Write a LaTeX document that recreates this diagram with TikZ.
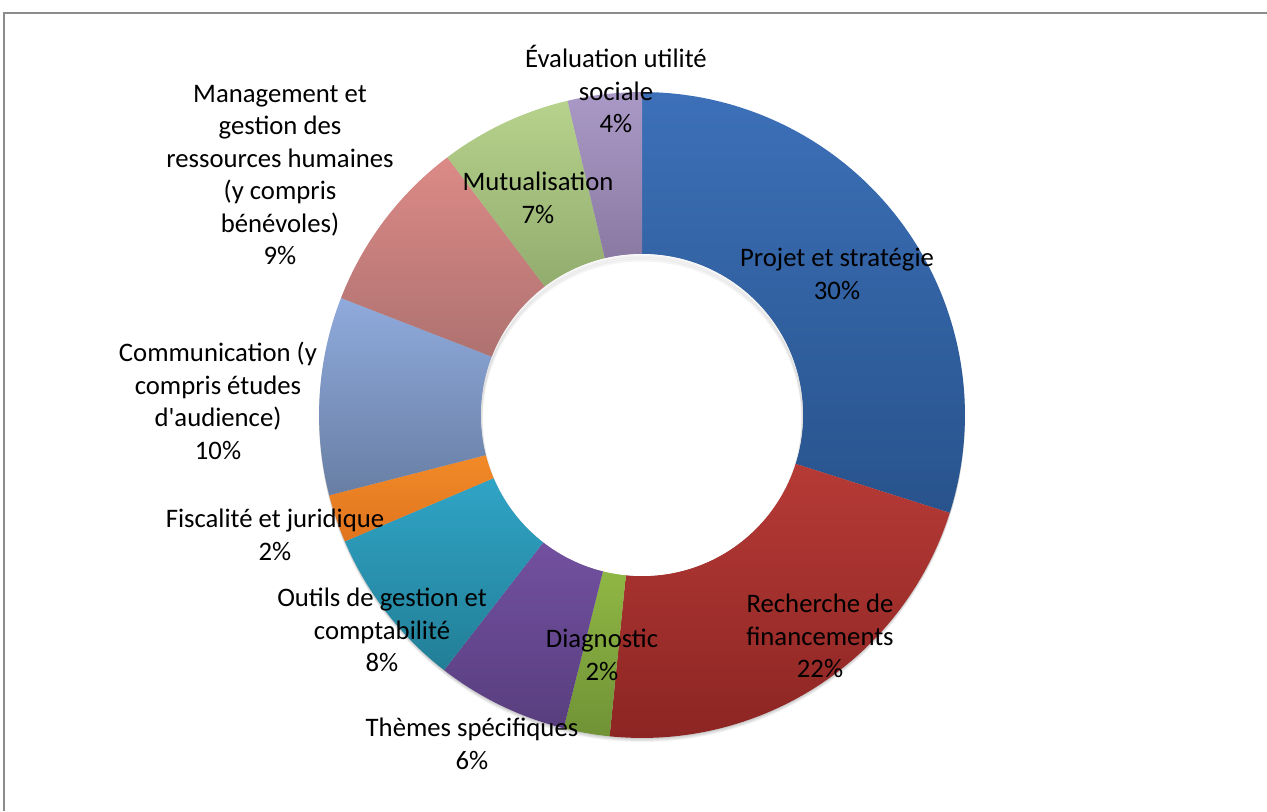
\documentclass[tikz,border=0pt]{standalone}
\usepackage{fontspec}
\setmainfont{Carlito}
\definecolor{framegray}{RGB}{140,140,140}
\definecolor{projetT}{RGB}{60,112,184}
\definecolor{projetB}{RGB}{40,83,140}
\definecolor{rechercheT}{RGB}{182,58,54}
\definecolor{rechercheB}{RGB}{138,36,34}
\definecolor{diagT}{RGB}{143,183,68}
\definecolor{diagB}{RGB}{112,146,54}
\definecolor{themesT}{RGB}{114,80,160}
\definecolor{themesB}{RGB}{88,62,126}
\definecolor{outilsT}{RGB}{48,164,198}
\definecolor{outilsB}{RGB}{34,126,150}
\definecolor{fiscT}{RGB}{242,138,40}
\definecolor{fiscB}{RGB}{224,116,30}
\definecolor{commT}{RGB}{143,170,220}
\definecolor{commB}{RGB}{104,126,164}
\definecolor{mgmtT}{RGB}{220,138,135}
\definecolor{mgmtB}{RGB}{174,114,112}
\definecolor{mutuT}{RGB}{182,210,140}
\definecolor{mutuB}{RGB}{146,172,110}
\definecolor{evalT}{RGB}{170,153,198}
\definecolor{evalB}{RGB}{138,122,162}
\begin{document}
\begin{tikzpicture}[x=0.02cm,y=-0.02cm,
  slicelabel/.style={align=center,inner sep=0pt,font=\fontsize{15.2}{18.5}\selectfont}]
  \useasboundingbox (0,0) rectangle (1267,811);
  \fill [white] (0,0) rectangle (1267,811);
  \draw [framegray,line width=0.04cm] (4,811) -- (4,13) -- (1267,13);
  \begin{scope}[shift={(642,415)}]
    \foreach \s in {1,...,4}{
      \fill [black,opacity=0.05] (0,\s) circle [radius=6.46cm];
    }
    \foreach \a/\b/\ct/\cb in {90/-17.64/projetT/projetB,
      -17.64/-95.76/rechercheT/rechercheB,
      -95.76/-104.04/diagT/diagB,
      -104.04/-127.8/themesT/themesB,
      -127.8/-156.96/outilsT/outilsB,
      -156.96/-165.6/fiscT/fiscB,
      -165.6/-201.24/commT/commB,
      -201.24/-232.92/mgmtT/mgmtB,
      -232.92/-256.68/mutuT/mutuB,
      -256.68/-270/evalT/evalB}{
      \shade [top color=\ct,bottom color=\cb]
        (\a:6.46cm)
        arc [start angle=\a,end angle=\b,radius=6.46cm]
        -- (\b:3.22cm)
        arc [start angle=\b,end angle=\a,radius=3.22cm]
        -- cycle
      ;
    }
    \fill [white] (0,0) circle [radius=3.22cm];
    \begin{scope}
      \clip (0,0) circle [radius=3.22cm];
      \foreach \s in {2,4,6}{
        \draw [black,opacity=0.04,line width=0.06cm] (0,\s) circle [radius=3.22cm];
      }
    \end{scope}
  \end{scope}
  \node [slicelabel] (label projet) at (837,274) {Projet et stratégie\\30\%};
  \node [slicelabel] (label recherche) at (820,636) {Recherche de\\financements\\22\%};
  \node [slicelabel] (label diag) at (602,655) {Diagnostic\\2\%};
  \node [slicelabel] (label themes) at (472,744) {Thèmes spécifiques\\6\%};
  \node [slicelabel] (label outils) at (382,630) {Outils de gestion et\\comptabilité\\8\%};
  \node [slicelabel] (label fisc) at (275,535) {Fiscalité et juridique\\2\%};
  \node [slicelabel] (label comm) at (218,401) {Communication (y\\compris études\\d\textquotesingle audience)\\10\%};
  \node [slicelabel] (label mgmt) at (280,175) {Management et\\gestion des\\ressources humaines\\(y compris\\bénévoles)\\9\%};
  \node [slicelabel] (label mutu) at (538,198) {Mutualisation\\7\%};
  \node [slicelabel] (label eval) at (616,89) {Évaluation utilité\\sociale\\4\%};
\end{tikzpicture}
\end{document}
